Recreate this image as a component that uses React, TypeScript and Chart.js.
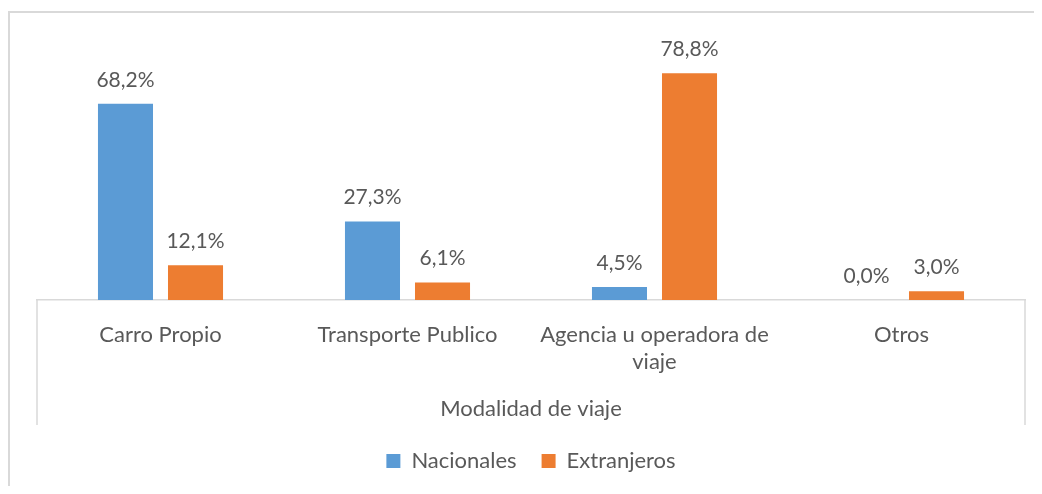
import { useEffect, useRef } from "react";
import { Chart, registerables } from "chart.js";

Chart.register(...registerables);

const categories: (string | string[])[] = [
  "Carro Propio",
  "Transporte Publico",
  ["Agencia u operadora de", "viaje"],
  "Otros",
];
const nacionales = [68.2, 27.3, 4.5, 0.0];
const extranjeros = [12.1, 6.1, 78.8, 3.0];
const seriesNames = ["Nacionales", "Extranjeros"];
const axisTitle = "Modalidad de viaje";
const yMax = 90;

const TEXT = "#595959";
const LINE = "#D9D9D9";
const FONT = "Lato";
const FS = 22;
const FS_LABEL = 21;

const valueLabels = {
  id: "valueLabels",
  afterDatasetsDraw(chart: any) {
    const ctx = chart.ctx;
    ctx.save();
    ctx.font = `${FS_LABEL}px ${FONT}`;
    ctx.fillStyle = TEXT;
    ctx.textAlign = "center";
    ctx.textBaseline = "middle";
    chart.data.datasets.forEach((ds: any, i: number) => {
      const meta = chart.getDatasetMeta(i);
      meta.data.forEach((el: any, j: number) => {
        const v = ds.data[j] as number;
        ctx.fillText(v.toFixed(1).replace(".", ",") + "%", el.x, el.y - 24);
      });
    });
    ctx.restore();
  },
};

const axisBox = {
  id: "axisBox",
  afterDraw(chart: any) {
    const { ctx, chartArea } = chart;
    ctx.save();
    ctx.strokeStyle = LINE;
    ctx.lineWidth = 1.5;
    const b = chartArea.bottom;
    [chartArea.left, chartArea.right].forEach((x: number) => {
      ctx.beginPath();
      ctx.moveTo(x, b);
      ctx.lineTo(x, b + 125);
      ctx.stroke();
    });
    ctx.restore();
  },
};

export default function App() {
  const ref = useRef<HTMLCanvasElement | null>(null);

  useEffect(() => {
    if (!ref.current) return;
    const chart = new Chart(ref.current, {
      type: "bar",
      data: {
        labels: categories,
        datasets: [
          {
            label: seriesNames[0],
            data: nacionales,
            backgroundColor: "#5B9BD5",
            categoryPercentage: 0.567,
            barPercentage: 0.786,
          },
          {
            label: seriesNames[1],
            data: extranjeros,
            backgroundColor: "#ED7D31",
            categoryPercentage: 0.567,
            barPercentage: 0.786,
          },
        ],
      },
      options: {
        animation: false,
        responsive: false,
        layout: { padding: { left: 27, right: 17, top: 28, bottom: 7 } },
        scales: {
          y: { display: false, min: 0, max: yMax },
          x: {
            grid: { display: false, drawTicks: false },
            border: { display: true, color: LINE, width: 1.5 },
            ticks: {
              color: TEXT,
              font: { family: FONT, size: FS },
              padding: 22,
              maxRotation: 0,
              autoSkip: false,
            },
            title: {
              display: true,
              text: axisTitle,
              color: TEXT,
              font: { family: FONT, size: FS, lineHeight: 1 },
              padding: { top: 1.2, bottom: 5 },
            },
          },
        },
        plugins: {
          legend: {
            position: "bottom",
            labels: {
              color: TEXT,
              font: { family: FONT, size: FS },
              boxWidth: 14,
              boxHeight: 14,
              padding: 25,
            },
          },
          tooltip: { enabled: false },
        },
      },
      plugins: [valueLabels, axisBox],
    });
    return () => chart.destroy();
  }, []);

  return (
    <div
      style={{
        position: "relative",
        top: 3,
        width: 1034,
        height: 478,
        boxSizing: "border-box",
        borderLeft: `2px solid ${LINE}`,
        borderTop: `2px solid ${LINE}`,
        background: "#fff",
      }}
    >
      <canvas ref={ref} width={1032} height={476} style={{ display: "block" }} />
    </div>
  );
}
